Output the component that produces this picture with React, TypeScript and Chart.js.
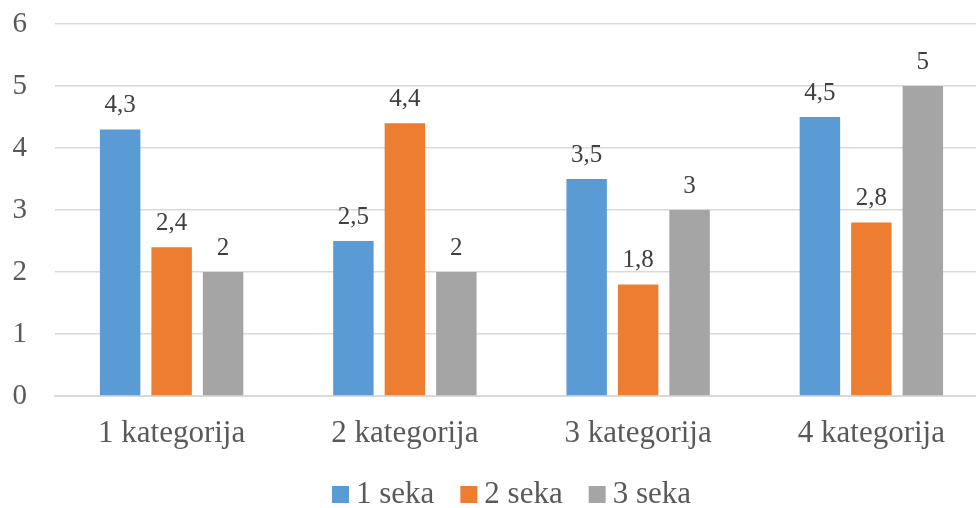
import React, { useEffect, useRef } from "react";
import { Chart, registerables } from "chart.js";

Chart.register(...registerables);

const categories = ["1 kategorija", "2 kategorija", "3 kategorija", "4 kategorija"];
const series1 = [4.3, 2.5, 3.5, 4.5];
const series2 = [2.4, 4.4, 1.8, 2.8];
const series3 = [2, 2, 3, 5];
const seriesNames = ["1 seka", "2 seka", "3 seka"];
const colors = ["#5B9BD5", "#ED7D31", "#A5A5A5"];
const yTicks = [0, 1, 2, 3, 4, 5, 6];

const FONT = "'Liberation Serif', 'Times New Roman', serif";
const TEXT = "#595959";

const dataLabelPlugin = {
  id: "dataLabels",
  afterDatasetsDraw(chart: any) {
    const ctx = chart.ctx;
    ctx.save();
    ctx.font = `25px ${FONT}`;
    ctx.fillStyle = "#404040";
    ctx.textAlign = "center";
    ctx.textBaseline = "alphabetic";
    chart.data.datasets.forEach((ds: any, i: number) => {
      const meta = chart.getDatasetMeta(i);
      meta.data.forEach((bar: any, j: number) => {
        const v = ds.data[j];
        ctx.fillText(String(v).replace(".", ","), bar.x, bar.y - 17);
      });
    });
    ctx.restore();
  },
};

const legendPlugin = {
  id: "customLegend",
  afterDraw(chart: any) {
    const ctx = chart.ctx;
    ctx.save();
    ctx.font = `31px ${FONT}`;
    ctx.textBaseline = "alphabetic";
    ctx.textAlign = "left";
    const box = 17;
    const gap = 7;
    const itemGap = 26;
    const widths = seriesNames.map((n) => ctx.measureText(n).width);
    const total =
      widths.reduce((a, b) => a + box + gap + b, 0) + itemGap * (seriesNames.length - 1);
    const center = (chart.chartArea.left + chart.chartArea.right) / 2 - 10;
    let x = center - total / 2;
    const baseline = 503;
    seriesNames.forEach((n, i) => {
      ctx.fillStyle = colors[i];
      ctx.fillRect(x, baseline - box, box, box);
      x += box + gap;
      ctx.fillStyle = TEXT;
      ctx.fillText(n, x, baseline);
      x += widths[i] + itemGap;
    });
    ctx.restore();
  },
};

export default function App() {
  const ref = useRef<HTMLCanvasElement>(null);
  useEffect(() => {
    document.body.style.margin = "0";
    const chart = new Chart(ref.current!, {
      type: "bar",
      data: {
        labels: categories,
        datasets: [series1, series2, series3].map((d, i) => ({
          label: seriesNames[i],
          data: d,
          backgroundColor: colors[i],
          categoryPercentage: 0.662,
          barPercentage: 0.786,
        })),
      },
      options: {
        animation: false,
        responsive: false,
        devicePixelRatio: 1,
        layout: { padding: { top: 24, right: 0, left: 0, bottom: 0 } },
        plugins: {
          legend: { display: false },
          tooltip: { enabled: false },
        },
        scales: {
          x: {
            grid: { display: false, drawTicks: false },
            border: { display: true, color: "#D9D9D9", width: 2 },
            ticks: { font: { family: FONT, size: 31 }, color: TEXT, padding: 19 },
            afterFit: (scale: any) => {
              scale.height = 112;
              scale.paddingLeft = 0;
              scale.paddingRight = 0;
            },
          },
          y: {
            min: 0,
            max: 6,
            afterBuildTicks: (scale: any) => {
              scale.ticks = yTicks.map((v) => ({ value: v }));
            },
            afterFit: (scale: any) => {
              scale.width = 55;
              scale.paddingTop = 0;
              scale.paddingBottom = 0;
            },
            grid: { color: "#D9D9D9", lineWidth: 1.5, drawTicks: false },
            border: { display: false },
            ticks: { font: { family: FONT, size: 29 }, color: TEXT, padding: 28 },
          },
        },
      },
      plugins: [dataLabelPlugin, legendPlugin],
    });
    return () => chart.destroy();
  }, []);
  return (
    <div style={{ width: 976, height: 508, background: "#fff", overflow: "hidden" }}>
      <canvas ref={ref} width={988} height={508} style={{ display: "block" }} />
    </div>
  );
}
